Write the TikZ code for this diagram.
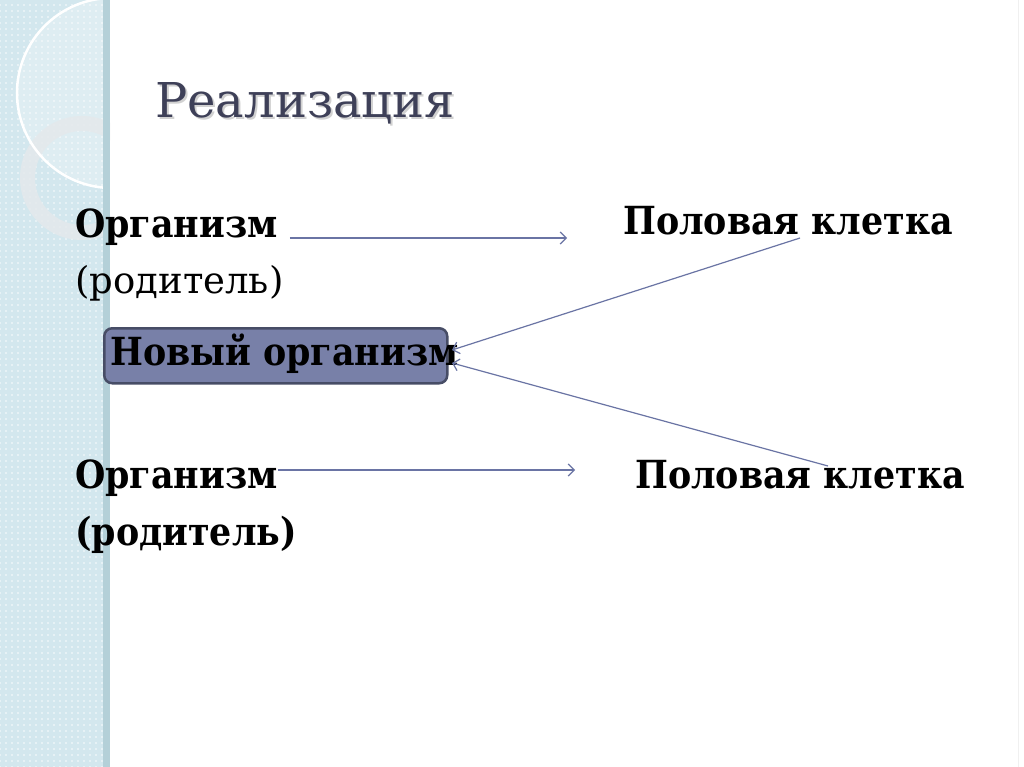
\documentclass[tikz,border=0pt]{standalone}
\usepackage{fontspec}
\setmainfont{DejaVu Serif Condensed}
\newfontfamily\titlefont{DejaVu Serif}
\usetikzlibrary{arrows.meta, positioning, patterns.meta}
\definecolor{strip-fill}{HTML}{D3E7EE}
\definecolor{strip-edge}{HTML}{B4D0D8}
\definecolor{ring-fill}{HTML}{E4E9EC}
\definecolor{title-ink}{HTML}{3E4058}
\definecolor{box-fill}{HTML}{7880A8}
\definecolor{box-border}{HTML}{474D66}
\definecolor{edge-ink}{HTML}{6A74A4}
\tikzset{
  slide-text/.style={anchor=base west, inner sep=0pt, font=\titlefont\fontsize{37}{46}\selectfont},
  slide-bold/.style={anchor=base west, inner sep=0pt, font=\fontsize{38.7}{46}\selectfont\bfseries},
  slide-title/.style={anchor=base west, inner sep=0pt, font=\titlefont\fontsize{48}{60}\selectfont},
  offspring-box/.style={
    draw=box-border, fill=box-fill, line width=2.5pt, rounded corners=8pt,
    minimum width=343pt, minimum height=55pt, inner sep=0pt
  },
  gamete-edge/.style={-{Straight Barb[length=6pt, width=12pt]}, line width=1.2pt, draw=edge-ink}
}

\begin{document}
\begin{tikzpicture}[x=1pt, y=-1pt]
  \useasboundingbox (0,0) rectangle (1024,767);
  \fill[white] (0,0) rectangle (1024,767);

  % left decorative strip
  \begin{scope}
    \clip (0,0) rectangle (110,767);
    \fill[strip-fill] (0,0) rectangle (110,767);
    \fill[pattern={Dots[radius=1.2pt, distance=6pt]}, pattern color=white!60!strip-fill] (0,0) rectangle (110,767);
    \fill[white, opacity=0.25] (112,93) circle[radius=95pt];
    \fill[ring-fill, opacity=0.85, even odd rule] (82,178) circle[radius=62pt] (82,178) circle[radius=47pt];
    \draw[white, line width=2.5pt] (112,93) circle[radius=95pt];
    \fill[strip-edge] (103,0) rectangle (110,767);
  \end{scope}
  \draw[black!6, line width=1pt] (1018,0) -- (1018,767);

  % title with soft shadow
  \node[slide-title, text=black!18] at (157,120) {Реализация};
  \node[slide-title, text=title-ink] (title) at (155,118) {Реализация};

  % first parent
  \node[slide-bold] (org-a)    at (75,237)  {Организм};
  \node[slide-text] (parent-a) at (75,293)  {(родитель)};
  \node[slide-bold] (gamete-a) at (623,235) {Половая клетка};

  % new organism
  \node[offspring-box, anchor=north west] (zygote-box) at (103,327) {};
  \node[slide-bold] (zygote) at (110,365) {Новый организм};

  % second parent
  \node[slide-bold] (org-b)    at (75,488)  {Организм};
  \node[slide-bold] (parent-b) at (75,545)  {(родитель)};
  \node[slide-bold] (gamete-b) at (635,488) {Половая клетка};

  \coordinate (tip-a)   at (567,238);
  \coordinate (tip-b)   at (575,470);
  \coordinate (tail-a)  at (800,238);
  \coordinate (tail-b)  at (828,466);
  \coordinate (join-a)  at (452,350);
  \coordinate (join-b)  at (452,363);

  \draw[gamete-edge] ([xshift=12pt, yshift=-1pt]org-a.base east) -- (tip-a);
  \draw[gamete-edge] ([yshift=18pt]org-b.base east) -- (tip-b);
  \draw[gamete-edge] (tail-a) -- (join-a);
  \draw[gamete-edge] (tail-b) -- (join-b);
\end{tikzpicture}
\end{document}
